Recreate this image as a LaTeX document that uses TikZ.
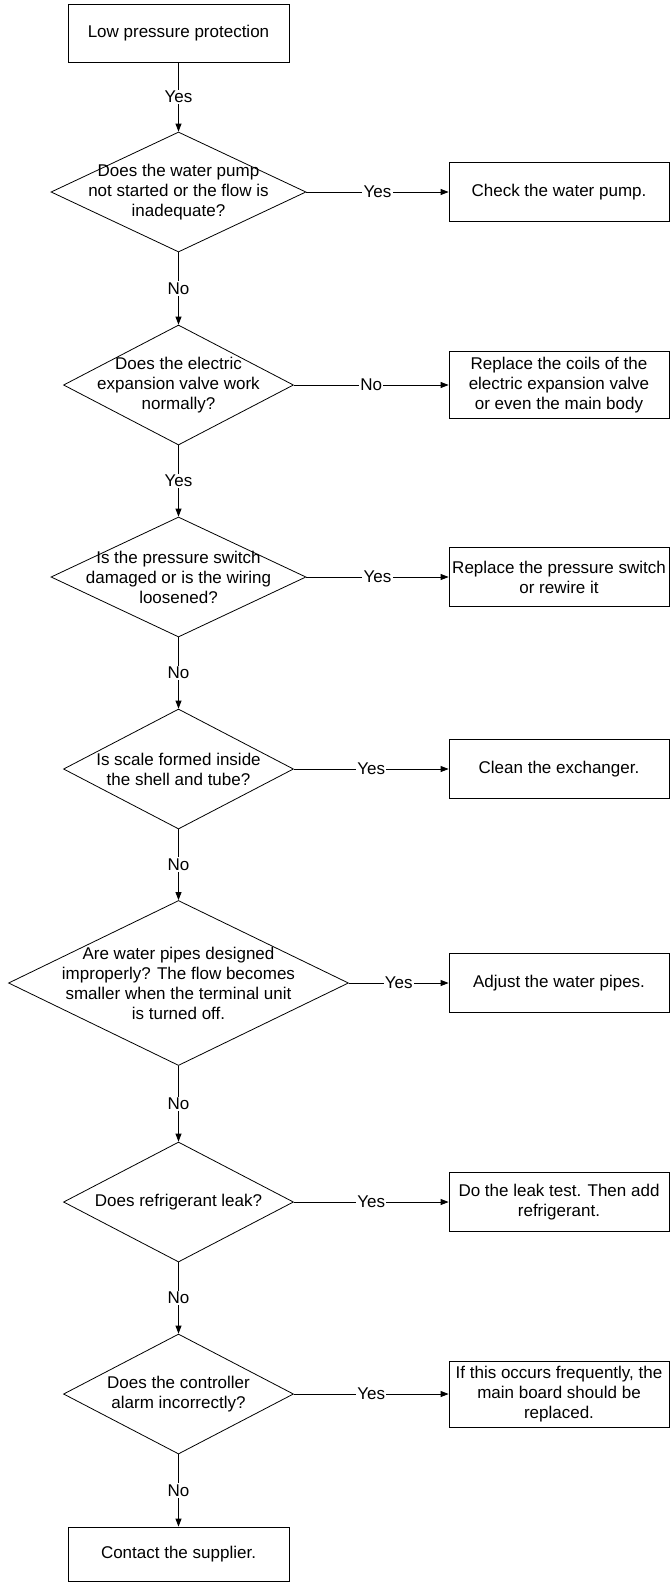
\documentclass[tikz,border=0pt]{standalone}
\usepackage{fontspec}
\setmainfont{Liberation Sans}
\usepackage{tikz}
\usetikzlibrary{shapes.geometric}
\usetikzlibrary{arrows.meta}
\tikzset{stepbox/.style={rectangle, draw, inner sep=1pt, align=center, minimum width=165pt, minimum height=44.25pt}}
\tikzset{endbox/.style={rectangle, draw, inner sep=1pt, align=center, minimum width=165.75pt, minimum height=43.5pt}}
\tikzset{ask/.style={diamond, draw, inner sep=0pt, minimum width=172.5pt, minimum height=90pt}}
\tikzset{wideask/.style={ask, minimum width=191.25pt}}
\tikzset{flow/.style={-{Triangle[length=6pt,width=4.5pt]}}}
\tikzset{yn/.style={fill=white, inner sep=1pt}}

\begin{document}
\begin{tikzpicture}[x=0.75pt, y=-0.75pt, line width=0.6pt, font=\fontsize{12.75}{15}\selectfont]
\useasboundingbox (0,0) rectangle (670,1582);

\node[endbox] (0) at (178.5,33) {Low pressure protection};

\node[wideask, label={[align=center]center:{Does the water pump\\not started or the flow is\\inadequate?}}] (1) at (178.5,192) {};
\node[ask, label={[align=center]center:{Does the electric\\expansion valve work\\normally?}}] (2) at (178.5,385) {};
\node[wideask, label={[align=center]center:{Is the pressure switch\\damaged or is the wiring\\loosened?}}] (3) at (178.5,577) {};
\node[ask, label={[align=center]center:{Is scale formed inside\\the shell and tube?}}] (4) at (178.5,769) {};
\node[ask, minimum width=255pt, minimum height=123.75pt, label={[align=center]center:{Are water pipes designed\\improperly? The flow becomes\\smaller when the terminal unit\\is turned off.}}] (5) at (178.5,983) {};
\node[ask, label={[align=center]center:{Does refrigerant leak?}}] (6) at (178.5,1202) {};
\node[ask, label={[align=center]center:{Does the controller\\alarm incorrectly?}}] (7) at (178.5,1394) {};

\node[endbox, minimum height=40.5pt] (8) at (178.5,1554) {Contact the supplier.};

\node[stepbox] (11) at (559,192) {Check the water pump.};
\node[stepbox, minimum height=50.25pt] (12) at (559,385) {Replace the coils of the\\electric expansion valve\\or even the main body};
\node[stepbox] (13) at (559,577) {Replace the pressure switch\\or rewire it};
\node[stepbox] (14) at (559,769) {Clean the exchanger.};
\node[stepbox] (15) at (559,983) {Adjust the water pipes.};
\node[stepbox] (16) at (559,1202) {Do the leak test. Then add\\refrigerant.};
\node[stepbox, minimum height=49.5pt] (17) at (559,1394) {If this occurs frequently, the\\main board should be\\replaced.};

\draw[flow] (0) -- node[yn] {Yes} (1);
\draw[flow] (1) -- node[yn] {No} (2);
\draw[flow] (2) -- node[yn] {Yes} (3);
\draw[flow] (3) -- node[yn] {No} (4);
\draw[flow] (4) -- node[yn] {No} (5);
\draw[flow] (5) -- node[yn] {No} (6);
\draw[flow] (6) -- node[yn] {No} (7);
\draw[flow] (7) -- node[yn] {No} (8);

\draw[flow] (1) -- node[yn] {Yes} (11);
\draw[flow] (2) -- node[yn] {No} (12);
\draw[flow] (3) -- node[yn] {Yes} (13);
\draw[flow] (4) -- node[yn] {Yes} (14);
\draw[flow] (5) -- node[yn] {Yes} (15);
\draw[flow] (6) -- node[yn] {Yes} (16);
\draw[flow] (7) -- node[yn] {Yes} (17);
\end{tikzpicture}
\end{document}
